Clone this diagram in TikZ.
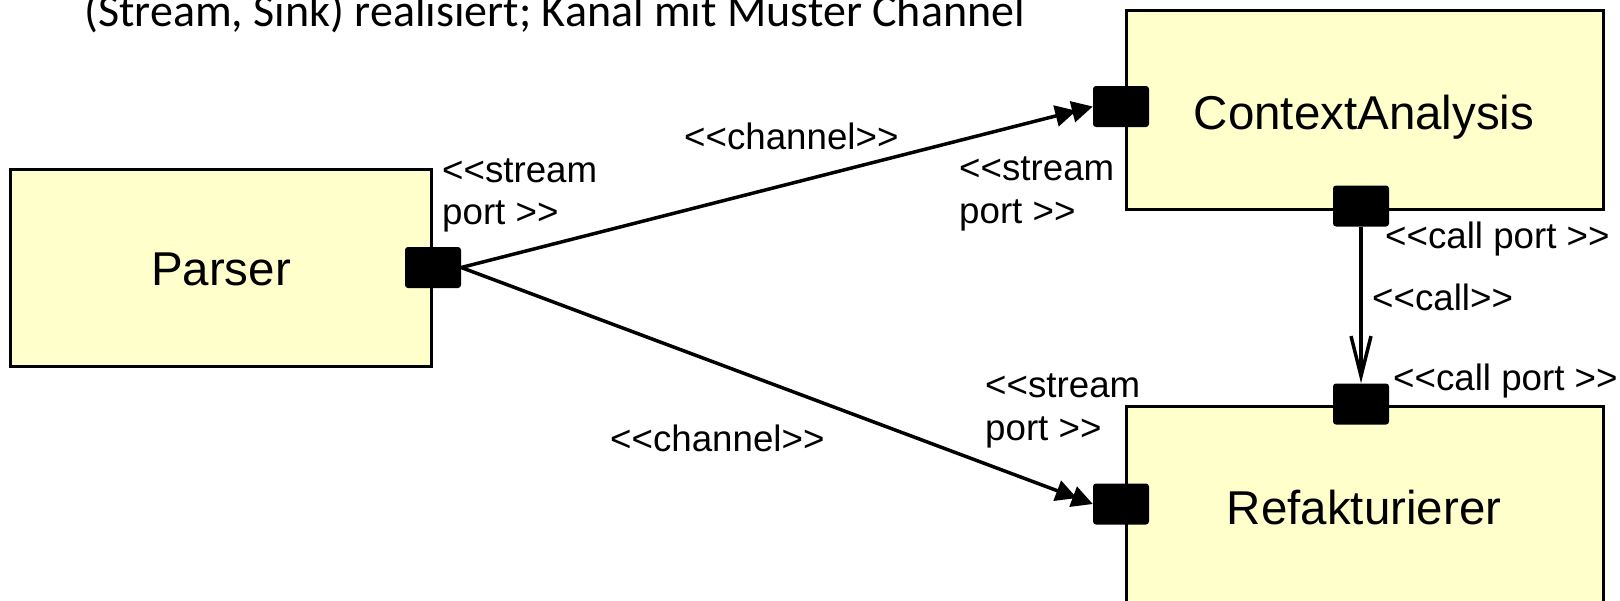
\documentclass[tikz,border=0pt]{standalone}
\usepackage{fontspec}
\newfontfamily\labfont{Liberation Sans}
\newfontfamily\ttlfont{Carlito}
\usetikzlibrary{arrows.meta}
\definecolor{compfill}{HTML}{FFFFCC}
\begin{document}
\begin{tikzpicture}[x=1pt,y=-1pt,
  comp/.style={draw=black, line width=3pt, fill=compfill, inner sep=0pt},
  portbox/.style={fill=black, rounded corners=3pt, minimum width=56pt, minimum height=41pt, inner sep=0pt},
  lab/.style={font=\labfont\fontsize{36.7}{42.5}\selectfont, inner sep=0pt, anchor=base west, align=left},
  cname/.style={font=\labfont\fontsize{47.5}{52}\selectfont, inner sep=0pt, anchor=base},
  ttl/.style={font=\ttlfont\fontsize{46}{52}\selectfont, inner sep=0pt, anchor=base west},
  streamline/.style={line width=3.5pt, -{Triangle[length=21pt,width=21pt,sep=-4pt] Triangle[length=21pt,width=21pt]}},
  callline/.style={line width=3.5pt, -{Straight Barb[length=40pt,width=20pt,line width=3.5pt]}}
]
\useasboundingbox (0,0) rectangle (1620,600);
\clip (0,0) rectangle (1620,600);

% title
\node[ttl] (title) at (84,26) {(Stream, Sink) realisiert; Kanal mit Muster Channel};

% components
\node[comp, minimum width=421pt, minimum height=197pt] (parser) at (220.5,267.5) {};
\node[comp, minimum width=477pt, minimum height=199pt] (ctx) at (1364.5,109.5) {};
\node[comp, minimum width=477pt, minimum height=234pt] (ref) at (1364.5,523) {};

\node[cname] (parsertxt) at (221,285) {Parser};
\node[cname] (ctxtxt) at (1364,129) {ContextAnalysis};
\node[cname] (reftxt) at (1364,524) {Refakturierer};

% ports
\node[portbox] (pp) at (433,267.5) {};
\node[portbox] (cas) at (1121,106.5) {};
\node[portbox] (cac) at (1361,206) {};
\node[portbox] (rfc) at (1361,404) {};
\node[portbox] (rfs) at (1121,504) {};

% connectors
\draw[streamline] (pp.east) -- (cas.west);
\draw[streamline] (pp.east) -- (rfs.west);
\draw[callline] (cac.south) -- (rfc.north);

% labels
\node[lab] (l1) at (684,149) {<<channel>>};
\node[lab] (l2) at (610,451) {<<channel>>};
\node[lab] (l3) at (442,224.5) {<<stream\\port >>};
\node[lab] (l4) at (959,223) {<<stream\\port >>};
\node[lab] (l5) at (985,440) {<<stream\\port >>};
\node[lab] (l6) at (1385,248) {<<call port >>};
\node[lab] (l7) at (1372,310) {<<call>>};
\node[lab] (l8) at (1393,390) {<<call port >>};
\end{tikzpicture}
\end{document}
